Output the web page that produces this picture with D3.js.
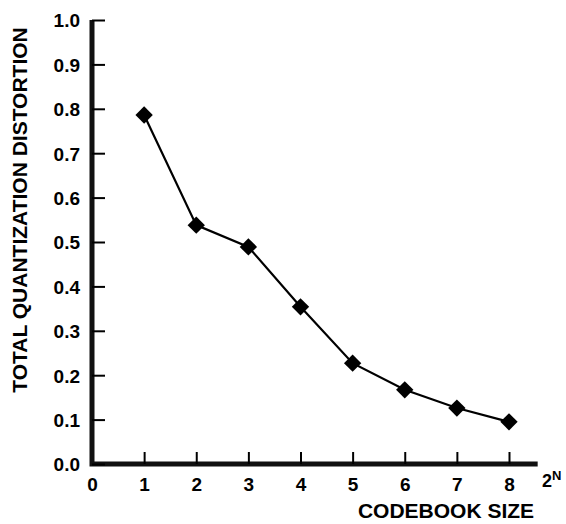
<!DOCTYPE html>
<html>
<head>
<meta charset="utf-8">
<script src="https://cdn.jsdelivr.net/npm/d3@7"></script>
<style>
  body { margin: 0; background: #fff; }
  text { font-family: "Liberation Sans", Arial, Helvetica, sans-serif; font-weight: bold; fill: #000; }
</style>
</head>
<body>
<div id="chart"></div>
<script>
// Data
const codebookSize = [1, 2, 3, 4, 5, 6, 7, 8];
const distortion = [0.786, 0.538, 0.489, 0.354, 0.227, 0.167, 0.126, 0.095];
const xTickValues = [0, 1, 2, 3, 4, 5, 6, 7, 8];
const yTickValues = [0, 0.1, 0.2, 0.3, 0.4, 0.5, 0.6, 0.7, 0.8, 0.9, 1.0];

const width = 566, height = 524;

const svg = d3.select("#chart")
    .append("svg")
    .attr("width", width)
    .attr("height", height);

// Scales
const x = d3.scaleLinear().domain([0, 8]).range([92, 509]);
const y = d3.scaleLinear().domain([0, 1]).range([464, 20]);

// Heavy L-shaped axis frame
const frame = [[0, 1], [0, 0], [8.55, 0]];
svg.append("path")
    .datum(frame)
    .attr("fill", "none")
    .attr("stroke", "#111")
    .attr("stroke-width", 5)
    .attr("stroke-linejoin", "miter")
    .attr("d", d3.line().x(d => x(d[0])).y(d => y(d[1])));

// Y axis ticks (pointing inward)
const yAxis = svg.append("g")
    .attr("transform", `translate(${x(0)},0)`)
    .call(d3.axisLeft(y)
        .tickValues(yTickValues)
        .tickSizeInner(-13)
        .tickSizeOuter(0)
        .tickPadding(12)
        .tickFormat(d3.format(".1f")));
yAxis.select(".domain").remove();
yAxis.selectAll(".tick line").style("stroke", "#000").style("stroke-width", "2px");
yAxis.selectAll(".tick text")
    .style("font-size", "19px")
    .attr("dy", "0.36em");

// X axis ticks
const xAxis = svg.append("g")
    .attr("transform", `translate(0,${y(0)})`)
    .call(d3.axisBottom(x)
        .tickValues(xTickValues)
        .tickSizeInner(-12)
        .tickSizeOuter(0)
        .tickPadding(14));
xAxis.select(".domain").remove();
xAxis.selectAll(".tick line").style("stroke", "#000").style("stroke-width", "2px");
xAxis.selectAll(".tick")
    .filter(d => d === 0)
    .select("line")
    .style("stroke", "none");
xAxis.selectAll(".tick text").style("font-size", "19px");

// Line
const pts = codebookSize.map((c, i) => [c, distortion[i]]);
svg.append("path")
    .datum(pts)
    .attr("fill", "none")
    .attr("stroke", "#000")
    .attr("stroke-width", 2.2)
    .attr("d", d3.line().x(d => x(d[0])).y(d => y(d[1])));

// Diamond markers
svg.selectAll(".marker")
    .data(pts)
    .enter()
    .append("path")
    .attr("class", "marker")
    .attr("transform", d => `translate(${x(d[0])},${y(d[1])}) rotate(45)`)
    .attr("d", d3.symbol().type(d3.symbolSquare).size(150))
    .attr("fill", "#000");

// Axis titles
svg.append("text")
    .attr("transform", `translate(27,210) rotate(-90)`)
    .attr("text-anchor", "middle")
    .style("font-size", "21px")
    .text("TOTAL QUANTIZATION DISTORTION");

svg.append("text")
    .attr("x", 446)
    .attr("y", 518)
    .attr("text-anchor", "middle")
    .style("font-size", "21px")
    .text("CODEBOOK SIZE");

const pow = svg.append("text")
    .attr("x", 542)
    .attr("y", 487)
    .style("font-size", "18px");
pow.append("tspan").text("2");
pow.append("tspan").attr("dy", -7).style("font-size", "13px").text("N");
</script>
</body>
</html>
